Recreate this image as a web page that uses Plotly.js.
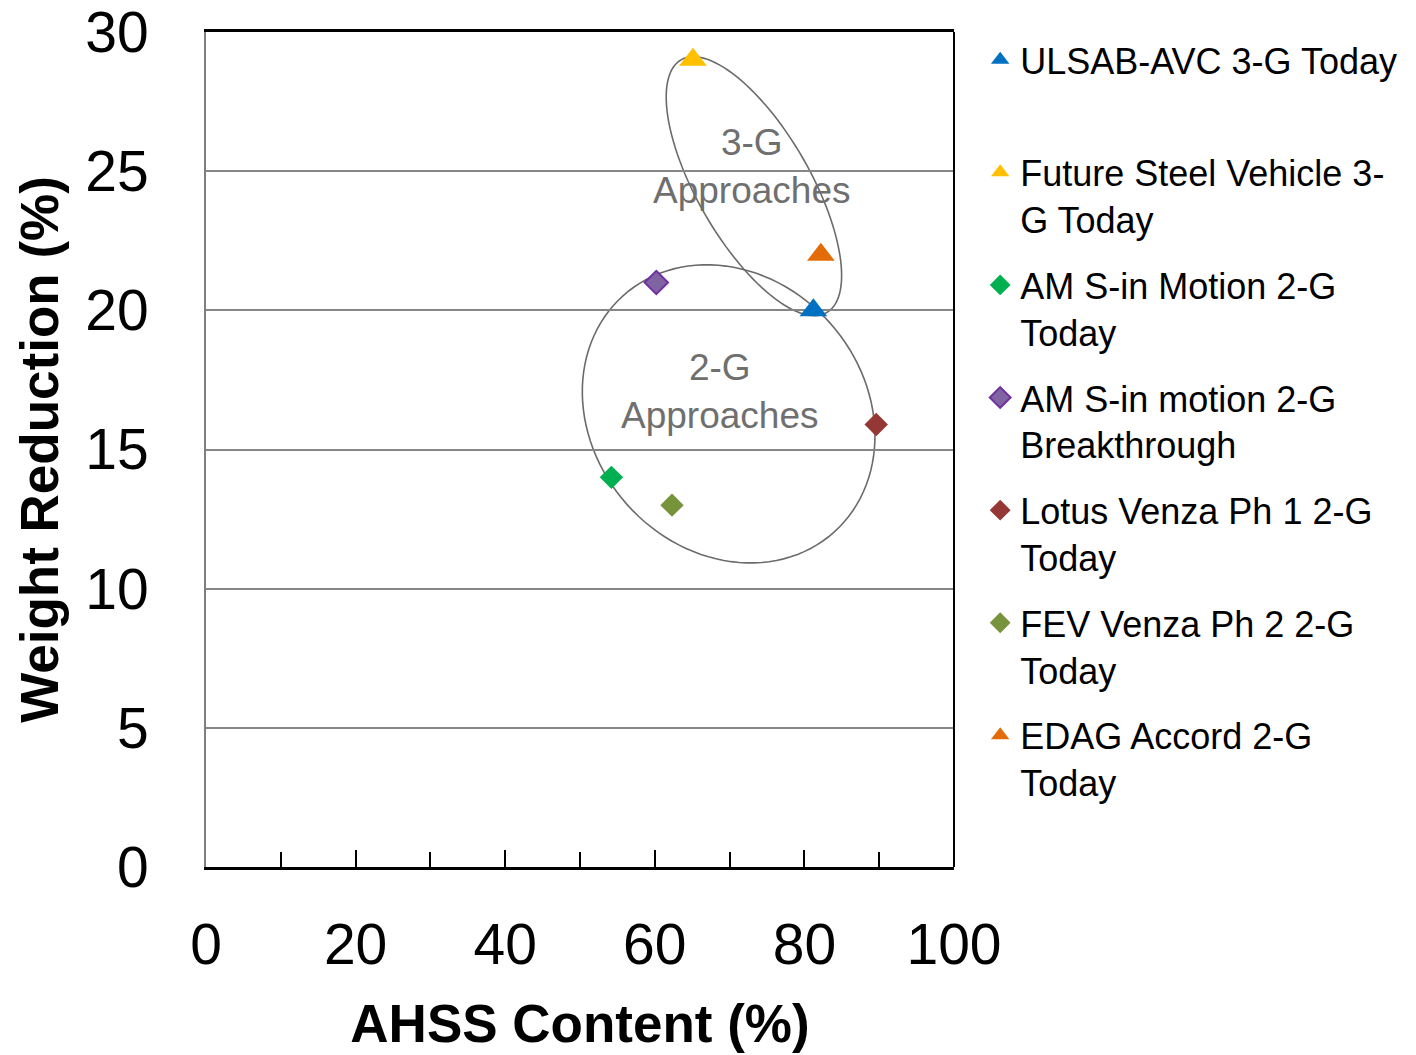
<!DOCTYPE html>
<html><head><meta charset="utf-8">
<script src="https://cdn.plot.ly/plotly-3.0.1.min.js"></script>
<style>html,body{margin:0;padding:0;background:#fff}#chart{width:1416px;height:1055px}</style>
</head><body><div id="chart"></div>
<script>
// ---- data ----
const seriesNames = [
  'ULSAB-AVC 3-G Today<br> ',
  'Future Steel Vehicle 3-<br>G Today',
  'AM S-in Motion 2-G<br>Today',
  'AM S-in motion 2-G<br>Breakthrough',
  'Lotus Venza Ph 1 2-G<br>Today',
  'FEV Venza Ph 2 2-G<br>Today',
  'EDAG Accord 2-G<br>Today'
];
const ahssContent     = [81.2, 65.1, 54.2, 60.2, 89.6, 62.3, 82.2];
const weightReduction = [20.0, 29.0, 14.0, 21.0, 15.9, 13.0, 22.0];

const xTickVals = [0, 20, 40, 60, 80, 100];
const yTickVals = [0, 5, 10, 15, 20, 25, 30];

const groupLabels = ['3-G<br>Approaches', '2-G<br>Approaches'];
const groupLabelX = [72.97, 68.6];
const groupLabelY = [25.15, 17.1];

// ellipses: centre and two conjugate semi-axes (data units)
const ellipseCentreX = [73.25, 69.87];
const ellipseCentreY = [24.46, 16.28];
const ellipseAxisU   = [[9.74, -4.54], [14.09, -4.25]];
const ellipseAxisV   = [[-6.53, -1.013], [-13.57, -3.26]];

// ---- styles ----
const markerSymbols = ['triangle-up','triangle-up','diamond','diamond','diamond','diamond','triangle-up'];
const markerColors  = ['#0070C0','#FFC000','#00B050','#8064A2','#953735','#77933C','#E36C09'];
const markerLines   = ['#0070C0','#FFC000','#00B050','#7030A0','#953735','#77933C','#E36C09'];

const traces = seriesNames.map((n, i) => ({
  type: 'scatter', mode: 'markers', name: n,
  x: [ahssContent[i]], y: [weightReduction[i]],
  legendgroup: 'g' + i,
  marker: {
    symbol: markerSymbols[i], color: markerColors[i],
    size: markerSymbols[i] === 'diamond' ? 18 : 24,
    line: {color: markerLines[i], width: i === 3 ? 2 : 0}
  },
  hoverinfo: 'x+y'
}));

function ellipsePath(k) {
  const pts = [];
  for (let j = 0; j <= 120; j++) {
    const t = 2 * Math.PI * j / 120;
    const x = ellipseCentreX[k] + ellipseAxisU[k][0] * Math.cos(t) + ellipseAxisV[k][0] * Math.sin(t);
    const y = ellipseCentreY[k] + ellipseAxisU[k][1] * Math.cos(t) + ellipseAxisV[k][1] * Math.sin(t);
    pts.push((j ? 'L' : 'M') + x.toFixed(3) + ',' + y.toFixed(3));
  }
  return pts.join(' ') + ' Z';
}

const shapes = [0, 1].map(k => ({
  type: 'path', xref: 'x', yref: 'y', path: ellipsePath(k),
  line: {color: '#6b6b6b', width: 1.6}, layer: 'below'
}));
shapes.push({type: 'line', xref: 'paper', yref: 'paper', x0: 1, x1: 1, y0: 0, y1: 1,
  line: {color: '#000', width: 2}});

const annotations = groupLabels.map((t, k) => ({
  text: t, x: groupLabelX[k], y: groupLabelY[k], xref: 'x', yref: 'y',
  showarrow: false, font: {family: 'Liberation Sans, Arial, sans-serif', size: 37, color: '#6f6f6f'},
  align: 'center'
}));

const layout = {
  width: 1416, height: 1055,
  margin: {l: 205.5, r: 462, t: 32, b: 188},
  paper_bgcolor: '#fff', plot_bgcolor: '#fff',
  showlegend: true,
  font: {family: 'Liberation Sans, Arial, sans-serif', color: '#000'},
  xaxis: {
    range: [0, 100], tickvals: xTickVals, ticks: 'inside', ticklen: 17, tickwidth: 2, tickcolor: '#000',
    minor: {dtick: 10, ticks: 'inside', ticklen: 15, tickwidth: 2, tickcolor: '#000', showgrid: false},
    showgrid: false, zeroline: false, showline: true, linecolor: '#000', linewidth: 2.5, mirror: true,
    tickfont: {size: 57, color: '#000'}, ticklabelstandoff: 26, ticklabeloverflow: 'allow', fixedrange: true,
    title: {text: 'AHSS Content (%)', font: {size: 53, weight: 'bold', color: '#000'}, standoff: 30},
    automargin: false
  },
  yaxis: {
    range: [0, 30], tickvals: yTickVals, ticks: '', showgrid: true, gridcolor: '#868686', gridwidth: 2,
    zeroline: false, showline: true, linecolor: '#7f7f7f', linewidth: 2,
    tickfont: {size: 57, color: '#000'}, ticklabelstandoff: 44, ticklabeloverflow: 'allow', fixedrange: true,
    title: {text: 'Weight Reduction (%)', font: {size: 53, weight: 'bold', color: '#000'}, standoff: 10},
    automargin: false
  },
  legend: {
    x: 1.035, xanchor: 'left', y: 1.0026, yanchor: 'top', maxheight: 1,
    font: {size: 36, color: '#000'}, valign: 'top', traceorder: 'grouped', tracegroupgap: 16,
    bgcolor: 'rgba(0,0,0,0)', borderwidth: 0, itemsizing: 'trace'
  },
  shapes: shapes,
  annotations: annotations,
  hovermode: 'closest'
};

Plotly.newPlot('chart', traces, layout, {displayModeBar: false, responsive: false});
</script></body></html>
